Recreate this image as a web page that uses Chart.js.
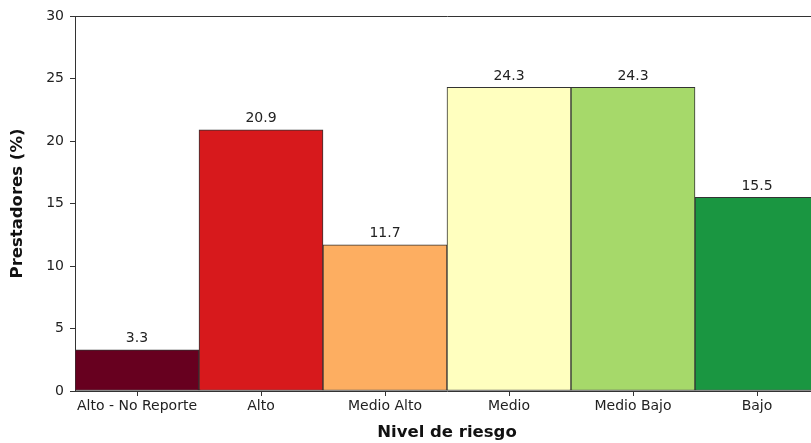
<!DOCTYPE html>
<html>
<head>
<meta charset="utf-8">
<script src="https://cdn.jsdelivr.net/npm/chart.js@4"></script>
<style>
  html, body { margin: 0; padding: 0; background: #fff; overflow: hidden; }
  #wrap { width: 822px; height: 443px; position: relative; }
</style>
</head>
<body>
<div id="wrap"><canvas id="riskChart"></canvas></div>
<script>
// Data
const categories = ['Alto - No Reporte', 'Alto', 'Medio Alto', 'Medio', 'Medio Bajo', 'Bajo'];
const shares = [3.3, 20.9, 11.7, 24.3, 24.3, 15.5];
const barColors = ['#67001f', '#d7191c', '#fdae61', '#ffffbf', '#a6d96a', '#1a9641'];
const yTicks = [0, 5, 10, 15, 20, 25, 30];

const font = 'DejaVu Sans';

// value labels above each bar
const valueLabels = {
  id: 'valueLabels',
  afterDatasetsDraw(chart) {
    const { ctx } = chart;
    const meta = chart.getDatasetMeta(0);
    ctx.save();
    ctx.fillStyle = '#222';
    ctx.font = '14px ' + font;
    ctx.textAlign = 'center';
    ctx.textBaseline = 'bottom';
    meta.data.forEach((bar, i) => {
      ctx.fillText(shares[i].toFixed(1), bar.x, bar.y - 4);
    });
    ctx.restore();
  }
};

new Chart(document.getElementById('riskChart'), {
  type: 'bar',
  data: {
    labels: categories,
    datasets: [{
      data: shares,
      backgroundColor: barColors,
      borderColor: '#333',
      borderWidth: 1,
      borderSkipped: false,
      barPercentage: 1,
      categoryPercentage: 1
    }]
  },
  options: {
    responsive: true,
    maintainAspectRatio: false,
    animation: false,
    layout: { padding: { top: 16, right: 3, left: 0, bottom: 0 } },
    plugins: { legend: { display: false }, tooltip: { enabled: false } },
    scales: {
      x: {
        afterFit(s) { s.height = 52; },
        grid: { display: true, offset: false, drawOnChartArea: false, tickLength: 5, color: '#333' },
        border: { display: true, color: '#333', width: 1 },
        ticks: { color: '#222', font: { family: font, size: 14 }, padding: 2, maxRotation: 0 },
        title: { display: true, text: 'Nivel de riesgo', color: '#111', font: { family: font, size: 16.5, weight: 'bold' }, padding: { top: 0, bottom: 0 } }
      },
      xTop: {
        position: 'top',
        afterFit(s) { s.height = 0; },
        grid: { display: false },
        border: { display: true, color: '#333', width: 1 },
        ticks: { display: false }
      },
      y: {
        min: 0,
        max: 30,
        afterFit(s) { s.width = 75; },
        afterBuildTicks(s) { s.ticks = yTicks.map(v => ({ value: v })); },
        grid: { display: true, drawOnChartArea: false, tickLength: 5, color: '#333' },
        border: { display: true, color: '#333', width: 1 },
        ticks: { color: '#222', font: { family: font, size: 14 }, padding: 6 },
        title: { display: true, text: 'Prestadores (%)', color: '#111', font: { family: font, size: 16.5, weight: 'bold' }, padding: { top: 8, bottom: 8 } }
      }
    }
  },
  plugins: [valueLabels]
});
</script>
</body>
</html>
